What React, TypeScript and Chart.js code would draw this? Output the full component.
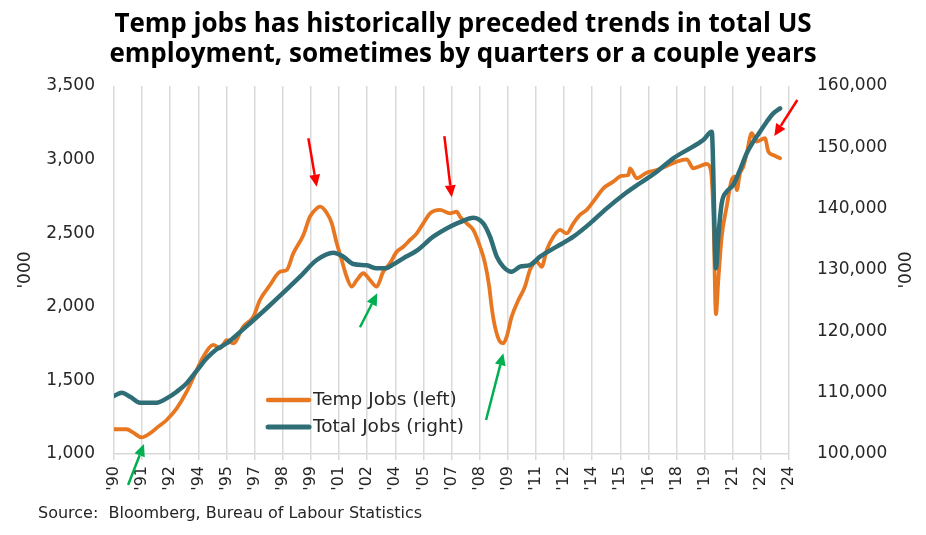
import React, { useEffect, useRef } from "react";
import { Chart, registerables } from "chart.js";

Chart.register(...registerables);

// ---------- Data ----------
const TITLE_LINES = [
  "Temp jobs has historically preceded trends in total US",
  "employment, sometimes by quarters or a couple years",
];
const SOURCE_TEXT = "Source:  Bloomberg, Bureau of Labour Statistics";
const LEFT_AXIS_TITLE = "'000";
const RIGHT_AXIS_TITLE = "'000";

const SERIES_NAMES = ["Temp Jobs (left)", "Total Jobs (right)"];

// x tick labels: one every 17 months starting Jan 1990
const TICK_LABELS = [
  "'90", "'91", "'92", "'94", "'95", "'97", "'98", "'99", "'01", "'02", "'04", "'05", "'07",
  "'08", "'09", "'11", "'12", "'14", "'15", "'16", "'18", "'19", "'21", "'22", "'24",
];
const TICK_START_YEAR = 1990;
const TICK_STEP_MONTHS = 17;

// Temp jobs ('000), dates as decimal years
const TEMP_DATES = [
  1990.0, 1990.64, 1990.97, 1991.39, 1991.81, 1992.23, 1992.65, 1993.16, 1993.66, 1994.17,
  1994.5, 1995.0, 1995.34, 1995.68, 1996.01, 1996.51, 1997.02, 1997.35, 1997.86, 1998.36,
  1998.7, 1999.03, 1999.54, 1999.87, 2000.21, 2000.38, 2000.71, 2000.97, 2001.22, 2001.47,
  2001.72, 2001.97, 2002.23, 2002.56, 2002.89, 2003.23, 2003.56, 2003.9, 2004.24, 2004.57,
  2004.91, 2005.25, 2005.58, 2005.92, 2006.42, 2006.92, 2007.26, 2007.43, 2007.77, 2008.1,
  2008.44, 2008.69, 2008.9, 2009.02, 2009.19, 2009.44, 2009.61, 2009.78, 2010.03, 2010.37,
  2010.7, 2010.95, 2011.29, 2011.54, 2011.8, 2012.13, 2012.47, 2012.8, 2013.14, 2013.47,
  2013.81, 2014.14, 2014.65, 2015.15, 2015.57, 2015.91, 2015.99, 2016.33, 2016.83, 2017.34,
  2017.84, 2018.34, 2018.85, 2019.18, 2019.52, 2019.85, 2020.06, 2020.19, 2020.32, 2020.44,
  2020.61, 2020.86, 2021.11, 2021.28, 2021.37, 2021.53, 2021.7, 2021.87, 2022.12, 2022.37,
  2022.79, 2022.96, 2023.21, 2023.55,
];
const TEMP_VALUES = [
  1168, 1168, 1145, 1113, 1140, 1186, 1231, 1310, 1423, 1571,
  1661, 1741, 1718, 1774, 1752, 1865, 1933, 2046, 2148, 2238,
  2250, 2363, 2488, 2612, 2669, 2680, 2639, 2567, 2431, 2318,
  2204, 2137, 2182, 2228, 2182, 2137, 2238, 2295, 2374, 2408,
  2454, 2499, 2567, 2635, 2658, 2635, 2646, 2612, 2567, 2522,
  2408, 2295, 2137, 2001, 1865, 1763, 1752, 1797, 1933, 2046,
  2137, 2250, 2306, 2272, 2386, 2476, 2522, 2499, 2567, 2624,
  2658, 2714, 2805, 2850, 2889, 2895, 2941, 2873, 2911, 2929,
  2956, 2986, 3002, 2941, 2956, 2970, 2929, 2635, 1950, 2182,
  2476, 2680, 2861, 2884, 2793, 2907, 2952, 3043, 3179, 3122,
  3145, 3054, 3031, 3009,
];

// Total nonfarm jobs ('000)
const TOTAL_DATES = [
  1990.0, 1990.39, 1990.81, 1991.31, 1992.15, 1992.65, 1993.16, 1993.66, 1994.17, 1994.67,
  1995.17, 1995.68, 1996.18, 1996.85, 1997.69, 1998.53, 1999.37, 2000.21, 2001.05, 2001.55,
  2002.05, 2002.73, 2003.23, 2003.65, 2004.07, 2004.57, 2005.25, 2006.08, 2006.92, 2007.43,
  2008.1, 2008.6, 2008.94, 2009.28, 2009.61, 2010.03, 2010.45, 2010.95, 2011.46, 2012.3,
  2013.14, 2013.98, 2014.82, 2015.65, 2016.49, 2017.34, 2018.17, 2019.01, 2019.68, 2020.11,
  2020.32, 2020.44, 2020.61, 2020.86, 2021.19, 2021.53, 2021.87, 2022.2, 2022.54, 2022.88,
  2023.21, 2023.55,
];
const TOTAL_VALUES = [
  109460, 109990, 109340, 108360, 108360, 109070, 110160, 111530, 113580, 115600,
  117070, 118050, 119400, 121310, 123760, 126300, 128910, 131630, 132830, 132170,
  130980, 130760, 130270, 130270, 130920, 131900, 133150, 135430, 137060, 137800,
  138530, 137600, 135430, 132170, 130540, 129720, 130540, 130820, 132170, 133800,
  135430, 137600, 140050, 142230, 144140, 146030, 148210, 149840, 151200, 152550,
  130270, 135430, 140870, 142770, 143860, 146300, 149030, 150920, 152550, 154180,
  155550, 156360,
];

// Annotation arrows, in data space (decimal year, left-axis value): tail -> tip
const ARROW_KINDS = ["up", "down", "up", "down", "up", "down"];
const ARROW_FROM_X = [1990.71, 1999.79, 2002.39, 2006.64, 2008.74, 2024.42];
const ARROW_FROM_Y = [789, 3145, 1861, 3160, 1231, 3405];
const ARROW_TO_X = [1991.51, 2000.21, 2003.26, 2007.01, 2009.61, 2023.26];
const ARROW_TO_Y = [1068, 2816, 2092, 2744, 1684, 3160];

// Legend anchor in data space
const LEGEND_X = 1997.76;
const LEGEND_Y = [1367, 1183];

// ---------- Styles ----------
const FONT = "'DejaVu Sans', sans-serif";
const TITLE_FONT = "'Open Sans', sans-serif";
const TEXT = "#262626";
const ORANGE = "#E87722";
const TEAL = "#2F6E77";
const GRID = "#D9D9D9";
const RED = "#FF0000";
const GREEN = "#00B050";

function drawArrow(ctx: CanvasRenderingContext2D, x1: number, y1: number, x2: number, y2: number, color: string) {
  const ang = Math.atan2(y2 - y1, x2 - x1);
  const head = 12;
  const half = 5.5;
  const bx = x2 - head * Math.cos(ang);
  const by = y2 - head * Math.sin(ang);
  ctx.strokeStyle = color;
  ctx.lineWidth = 2.5;
  ctx.lineCap = "butt";
  ctx.beginPath();
  ctx.moveTo(x1, y1);
  ctx.lineTo(bx, by);
  ctx.stroke();
  ctx.fillStyle = color;
  ctx.beginPath();
  ctx.moveTo(x2, y2);
  ctx.lineTo(bx + half * Math.sin(ang), by - half * Math.cos(ang));
  ctx.lineTo(bx - half * Math.sin(ang), by + half * Math.cos(ang));
  ctx.closePath();
  ctx.fill();
}

const overlayPlugin = {
  id: "overlay",
  afterDatasetsDraw(chart: any) {
    const { ctx, scales } = chart;
    const xs = scales.x;
    const ys = scales.y;
    ctx.save();
    // arrows
    for (let i = 0; i < ARROW_KINDS.length; i++) {
      drawArrow(
        ctx,
        xs.getPixelForValue(ARROW_FROM_X[i]),
        ys.getPixelForValue(ARROW_FROM_Y[i]),
        xs.getPixelForValue(ARROW_TO_X[i]),
        ys.getPixelForValue(ARROW_TO_Y[i]),
        ARROW_KINDS[i] === "up" ? GREEN : RED
      );
    }
    // legend
    const colors = [ORANGE, TEAL];
    const widths = [4.5, 5];
    const lx = xs.getPixelForValue(LEGEND_X);
    SERIES_NAMES.forEach((name, i) => {
      const ly = ys.getPixelForValue(LEGEND_Y[i]);
      ctx.strokeStyle = colors[i];
      ctx.lineWidth = widths[i];
      ctx.lineCap = "round";
      ctx.beginPath();
      ctx.moveTo(lx, ly);
      ctx.lineTo(lx + 41, ly);
      ctx.stroke();
      ctx.fillStyle = TEXT;
      ctx.font = `18.5px ${FONT}`;
      ctx.textAlign = "left";
      ctx.textBaseline = "middle";
      ctx.fillText(name, lx + 45, ly);
    });
    ctx.restore();
  },
  afterDraw(chart: any) {
    const { ctx, chartArea } = chart;
    ctx.save();
    // title
    ctx.fillStyle = "#000";
    ctx.font = `bold 26px ${TITLE_FONT}`;
    ctx.textAlign = "center";
    ctx.textBaseline = "middle";
    TITLE_LINES.forEach((t, i) => ctx.fillText(t, chart.width / 2, 25 + i * 30));
    // source
    ctx.fillStyle = TEXT;
    ctx.font = `16px ${FONT}`;
    ctx.textAlign = "left";
    ctx.fillText(SOURCE_TEXT, 38, 514);
    // axis titles (both read bottom-to-top)
    ctx.font = `17px ${FONT}`;
    ctx.textAlign = "center";
    const cy = (chartArea.top + chartArea.bottom) / 2;
    [[26, LEFT_AXIS_TITLE], [907, RIGHT_AXIS_TITLE]].forEach(([px, t]) => {
      ctx.save();
      ctx.translate(px as number, cy);
      ctx.rotate(-Math.PI / 2);
      ctx.fillText(t as string, 0, 0);
      ctx.restore();
    });
    ctx.restore();
  },
};

export default function App() {
  const ref = useRef<HTMLCanvasElement | null>(null);

  useEffect(() => {
    document.body.style.margin = "0";
    const canvas = ref.current;
    if (!canvas) return;
    const tickPositions = TICK_LABELS.map((_, i) => TICK_START_YEAR + (i * TICK_STEP_MONTHS) / 12);
    const tempData = TEMP_DATES.map((d, i) => ({ x: d, y: TEMP_VALUES[i] }));
    const totalData = TOTAL_DATES.map((d, i) => ({ x: d, y: TOTAL_VALUES[i] }));
    const tickFont = { family: FONT, size: 17 };

    const chart = new Chart(canvas, {
      type: "line",
      data: {
        datasets: [
          {
            label: SERIES_NAMES[0],
            data: tempData,
            yAxisID: "y",
            borderColor: ORANGE,
            borderWidth: 3.8,
            pointRadius: 0,
            cubicInterpolationMode: "monotone",
            borderJoinStyle: "round",
            borderCapStyle: "round",
            order: 2,
          },
          {
            label: SERIES_NAMES[1],
            data: totalData,
            yAxisID: "y1",
            borderColor: TEAL,
            borderWidth: 4.5,
            pointRadius: 0,
            cubicInterpolationMode: "monotone",
            borderJoinStyle: "round",
            borderCapStyle: "round",
            order: 1,
          },
        ],
      },
      options: {
        responsive: false,
        animation: false,
        events: [],
        layout: { padding: { top: 86, left: 0, right: 0, bottom: 0 } },
        plugins: {
          legend: { display: false },
          tooltip: { enabled: false },
          title: { display: false },
        },
        scales: {
          x: {
            type: "linear",
            min: 1990,
            max: 2024,
            afterBuildTicks: (s: any) => {
              s.ticks = tickPositions.map((v) => ({ value: v }));
            },
            afterFit: (s: any) => {
              s.height = 81;
            },
            ticks: {
              autoSkip: false,
              minRotation: 90,
              maxRotation: 90,
              padding: 6,
              color: TEXT,
              font: { family: FONT, size: 16 },
              callback: (_v: any, i: number) => TICK_LABELS[i],
            },
            grid: { color: GRID, lineWidth: 1.5, tickLength: 6, drawTicks: true },
            border: { color: GRID, width: 1.5 },
          },
          y: {
            position: "left",
            min: 1000,
            max: 3500,
            afterFit: (s: any) => {
              s.width = 114;
            },
            ticks: {
              stepSize: 500,
              padding: 19,
              color: TEXT,
              font: tickFont,
              callback: (v: any) => Number(v).toLocaleString("en-US"),
            },
            grid: { display: false, drawTicks: false },
            border: { display: false },
          },
          y1: {
            position: "right",
            min: 100000,
            max: 160000,
            afterFit: (s: any) => {
              s.width = 137;
            },
            ticks: {
              stepSize: 10000,
              padding: 28,
              color: TEXT,
              font: tickFont,
              callback: (v: any) => Number(v).toLocaleString("en-US"),
            },
            grid: { display: false, drawTicks: false },
            border: { display: false },
          },
        },
      } as any,
      plugins: [overlayPlugin],
    });
    return () => chart.destroy();
  }, []);

  return (
    <div style={{ width: 926, height: 535, background: "#fff" }}>
      <canvas ref={ref} width={926} height={535} style={{ display: "block" }} />
    </div>
  );
}
